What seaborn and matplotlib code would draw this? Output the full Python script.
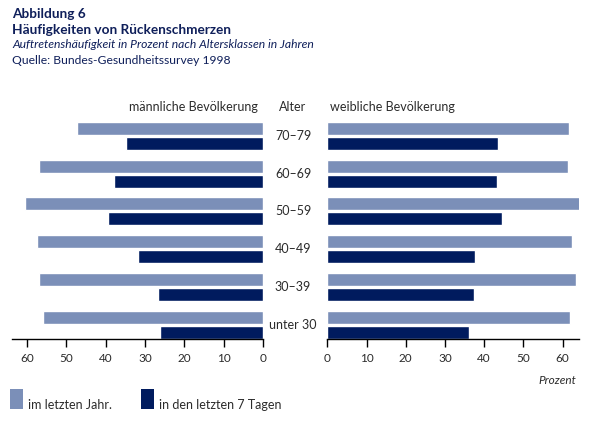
import matplotlib
matplotlib.use("Agg")
import matplotlib.pyplot as plt
import matplotlib.transforms as mtransforms
from matplotlib.patches import Rectangle
import pandas as pd
import seaborn as sns

AGES = ["70–79", "60–69", "50–59", "40–49", "30–39", "unter 30"]
PERIODS = ["im letzten Jahr.", "in den letzten 7 Tagen"]
MEN_YEAR = [47.2, 56.9, 60.5, 57.4, 56.9, 55.9]
MEN_WEEK = [34.7, 37.8, 39.3, 31.7, 26.8, 26.3]
WOMEN_YEAR = [61.7, 61.4, 64.8, 62.5, 63.5, 62.0]
WOMEN_WEEK = [43.6, 43.3, 44.6, 37.7, 37.4, 36.2]
TICKS = [0, 10, 20, 30, 40, 50, 60]

LIGHT = "#7b8fb8"
DARK = "#001b5e"
NAVY = "#0f1f5a"
GREY = "#2b2b2b"

sns.set_theme(style="white")
plt.rcParams["font.family"] = ["Lato", "DejaVu Sans"]


def long_frame(year, week):
    return pd.DataFrame({
        "Alter": AGES * 2,
        "Zeitraum": [PERIODS[0]] * len(AGES) + [PERIODS[1]] * len(AGES),
        "Prozent": year + week,
    })


def draw_side(ax, df, xlim):
    sns.barplot(data=df, y="Alter", x="Prozent", hue="Zeitraum", order=AGES,
                hue_order=PERIODS, orient="h", palette=[LIGHT, DARK],
                width=0.79, gap=0.13, saturation=1, legend=False, ax=ax)
    ax.set_xlim(*xlim)
    ax.set_ylim(5.37, -0.6)
    for side in ["top", "left", "right"]:
        ax.spines[side].set_visible(False)
    ax.spines["bottom"].set_color("black")
    ax.spines["bottom"].set_linewidth(1)
    ax.set_xticks(TICKS)
    ax.set_xticklabels([str(t) for t in TICKS])
    ax.set_yticks([])
    ax.set_xlabel("")
    ax.set_ylabel("")
    ax.tick_params(axis="x", direction="out", length=6, width=1, color="black",
                   labelsize=8.5, labelcolor=GREY, pad=4, bottom=True)


fig = plt.figure(figsize=(6, 4.21), dpi=100)
ax_m = fig.add_axes([0.02, 0.1948, 0.4183, 0.5368])
ax_w = fig.add_axes([0.5455, 0.1948, 0.4195, 0.5368])

draw_side(ax_m, long_frame(MEN_YEAR, MEN_WEEK), (63.8, 0))
draw_side(ax_w, long_frame(WOMEN_YEAR, WOMEN_WEEK), (0, 64.2))

# age labels in the middle column
trans = mtransforms.blended_transform_factory(fig.transFigure, ax_m.transData)
for i, age in enumerate(AGES):
    ax_m.text(293 / 600, i, age, transform=trans, ha="center", va="center",
              fontsize=9, color=GREY, clip_on=False)

fig.text(258 / 600, 1 - 107 / 421, "männliche Bevölkerung", ha="right", va="center",
         fontsize=9, color=GREY)
fig.text(293 / 600, 1 - 107 / 421, "Alter", ha="center", va="center",
         fontsize=9, color=GREY)
fig.text(330 / 600, 1 - 107 / 421, "weibliche Bevölkerung", ha="left", va="center",
         fontsize=9, color=GREY)

# header
fig.text(12 / 600, 1 - 14 / 421, "Abbildung 6", ha="left", va="center",
         fontsize=9.8, fontweight="bold", color=NAVY)
fig.text(12 / 600, 1 - 30 / 421, "Häufigkeiten von Rückenschmerzen", ha="left", va="center",
         fontsize=9.8, fontweight="bold", color=NAVY)
fig.text(12 / 600, 1 - 45 / 421, "Auftretenshäufigkeit in Prozent nach Altersklassen in Jahren",
         ha="left", va="center", fontsize=8.7, style="italic", color=NAVY)
fig.text(12 / 600, 1 - 60 / 421, "Quelle: Bundes-Gesundheitssurvey 1998", ha="left",
         va="center", fontsize=8.7, color=NAVY)

fig.text(576 / 600, 1 - 381 / 421, "Prozent", ha="right", va="center",
         fontsize=8.5, style="italic", color=GREY)

# legend
for x0, color, label in [(10, LIGHT, PERIODS[0]), (141, DARK, PERIODS[1])]:
    fig.add_artist(Rectangle((x0 / 600, 1 - 409 / 421), 13 / 600, 20 / 421,
                             transform=fig.transFigure, color=color, lw=0))
    fig.text((x0 + 18) / 600, 1 - 405 / 421, label, ha="left", va="center",
             fontsize=9, color=GREY)

fig.savefig("out.png", dpi=100)
